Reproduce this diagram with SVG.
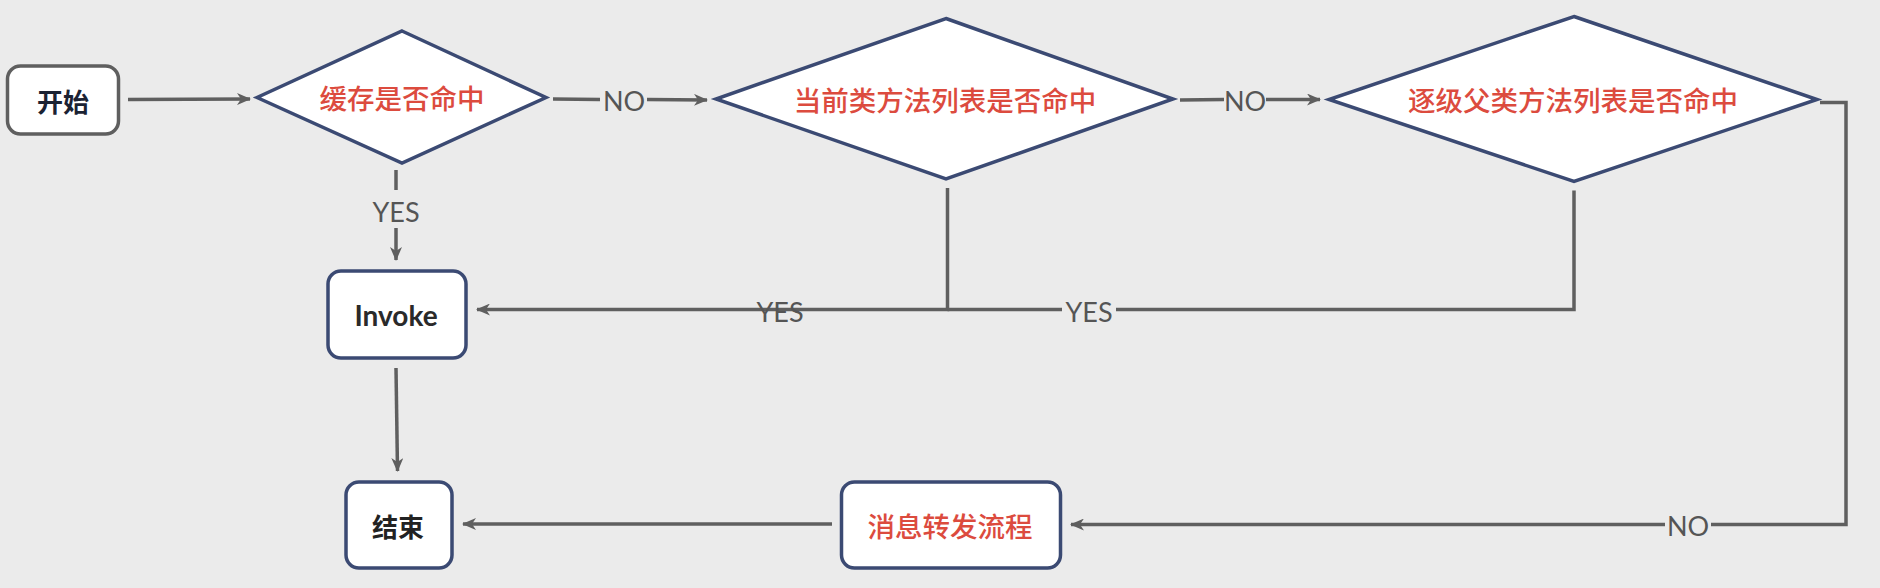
<svg xmlns="http://www.w3.org/2000/svg" width="1880" height="588" viewBox="0 0 1880 588">
<defs>
<style>
.bg{fill:#ebebeb}
.box{fill:#fff;stroke:#3b4a73;stroke-width:3.5}
.start{fill:#fff;stroke:#5f5f5f;stroke-width:3.5}
.dia{fill:#fff;stroke:#3b4a73;stroke-width:3.5;stroke-linejoin:miter}
.red{fill:#dc4b3e;font-family:"Noto Sans CJK SC","Noto Sans",sans-serif;font-size:27.5px;font-weight:500;text-anchor:middle;dominant-baseline:central}
.dark{fill:#1b2233;font-family:"Noto Sans CJK SC","Noto Sans",sans-serif;font-size:26px;font-weight:700;text-anchor:middle;dominant-baseline:central}
.en{fill:#2a2a2a;font-family:Lato,"Liberation Sans",sans-serif;font-size:28px;font-weight:700;text-anchor:middle;dominant-baseline:central}
.conn{fill:none;stroke:#5f5f5f;stroke-width:3.5}
.lbl{fill:#555;font-family:Lato,"Liberation Sans",sans-serif;font-size:27px;text-anchor:middle;dominant-baseline:central}
</style>
<marker id="arr" viewBox="0 0 14 12" refX="13" refY="6" markerWidth="14" markerHeight="12" markerUnits="userSpaceOnUse" orient="auto">
<path d="M0,0 L14,6 L0,12 L4,6 Z" fill="#5f5f5f"/>
</marker>
</defs>
<rect class="bg" x="0" y="0" width="1880" height="588"/>
<g id="connectors">
<path class="conn" d="M128,99.5 L250,99" marker-end="url(#arr)"/>
<path class="conn" d="M553,99 L600,99.5"/>
<path class="conn" d="M647,99.5 L707,100" marker-end="url(#arr)"/>
<path class="conn" d="M1180,100 L1224,99.5"/>
<path class="conn" d="M1266,99.5 L1320,99.5" marker-end="url(#arr)"/>
<path class="conn" d="M396,170 L396,190"/>
<path class="conn" d="M396,228 L396,260" marker-end="url(#arr)"/>
<path class="conn" d="M947.5,188 L947.5,309.5 L477,309.5" marker-end="url(#arr)"/>
<path class="conn" d="M1574,190.5 L1574,309.5 L1116,309.5"/>
<path class="conn" d="M1062,309.5 L947.5,309.5"/>
<path class="conn" d="M1820,102.5 L1846,102.5 L1846,524.5 L1711,524.5"/>
<path class="conn" d="M1665,524.5 L1071,524.5" marker-end="url(#arr)"/>
<path class="conn" d="M396,368 L397.5,471" marker-end="url(#arr)"/>
<path class="conn" d="M832,524 L463,524" marker-end="url(#arr)"/>
<text class="lbl" x="624" y="100">NO</text>
<text class="lbl" x="1245" y="100">NO</text>
<text class="lbl" x="396" y="211">YES</text>
<text class="lbl" x="780" y="311">YES</text>
<text class="lbl" x="1089" y="311">YES</text>
<text class="lbl" x="1688" y="525">NO</text>
</g>
<g id="start">
<rect class="start" x="7.5" y="66" width="111" height="68" rx="13"/>
<text class="dark" x="63" y="100">开始</text>
</g>
<g id="cache">
<polygon class="dia" points="402,31 546,97.5 402,163 257,97.5"/>
<text class="red" x="402" y="97">缓存是否命中</text>
</g>
<g id="current">
<polygon class="dia" points="946,18.5 1173,99 946,179 716,99"/>
<text class="red" x="945" y="99">当前类方法列表是否命中</text>
</g>
<g id="super">
<polygon class="dia" points="1574,16.5 1817,99.5 1574,181.5 1329,99.5"/>
<text class="red" x="1573" y="99">逐级父类方法列表是否命中</text>
</g>
<g id="invoke">
<rect class="box" x="328" y="271" width="138" height="87" rx="13"/>
<text class="en" x="396" y="315">Invoke</text>
</g>
<g id="end">
<rect class="box" x="346" y="482" width="106" height="86" rx="13"/>
<text class="dark" x="398" y="525" style="fill:#222">结束</text>
</g>
<g id="forward">
<rect class="box" x="841.5" y="482" width="219" height="86" rx="13"/>
<text class="red" x="950" y="525">消息转发流程</text>
</g>
</svg>
